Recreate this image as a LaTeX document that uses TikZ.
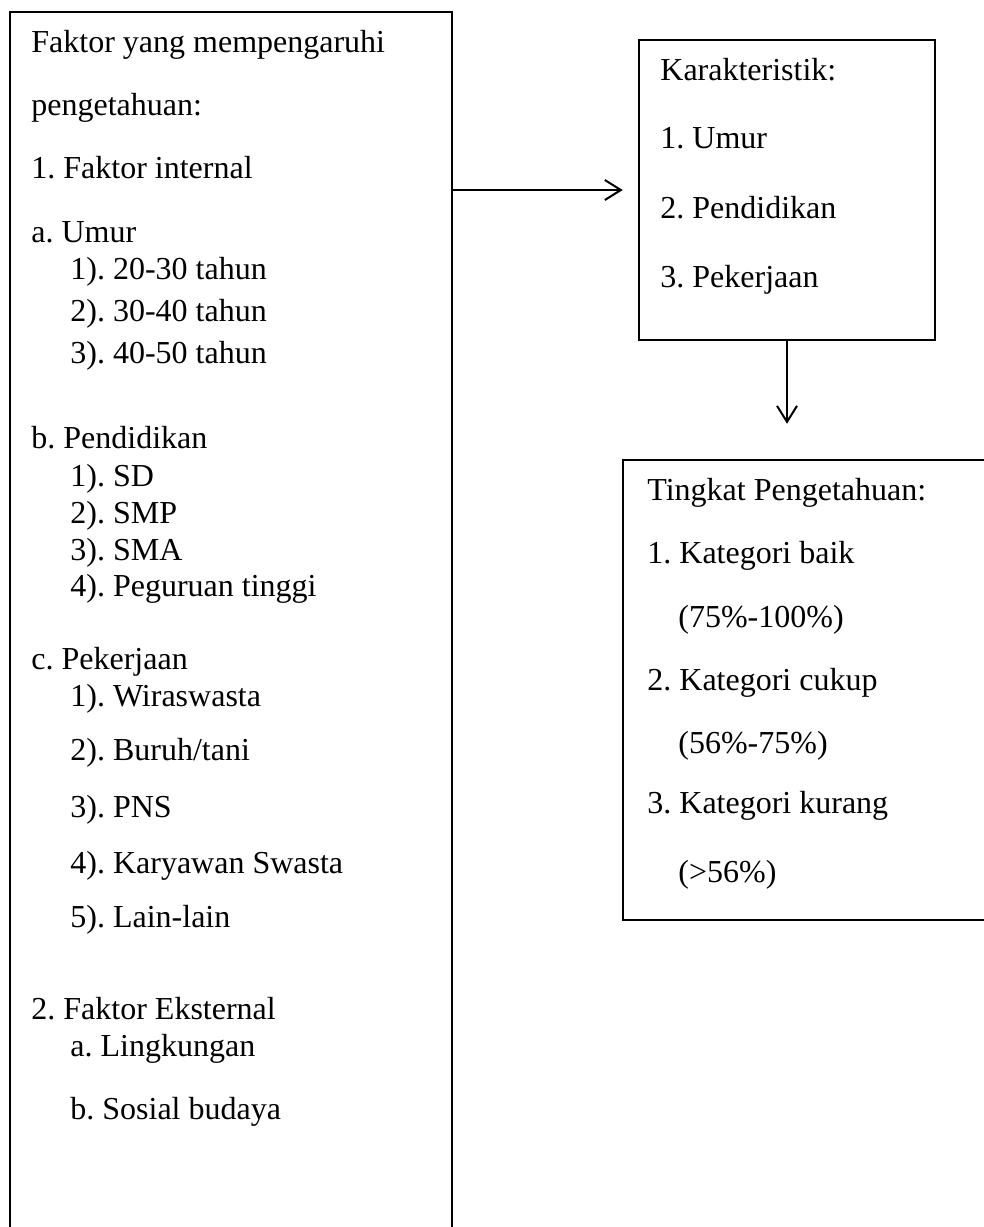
\documentclass[tikz,border=0pt]{standalone}
\usepackage{fontspec}
\setmainfont{Liberation Serif}
\usetikzlibrary{positioning,arrows.meta}

\tikzset{
  kotak/.style={draw, line width=1.25pt, inner sep=0pt},
  baris/.style={anchor=base west, inner sep=0pt, font=\fontsize{16pt}{19pt}\selectfont\frenchspacing},
  panah/.style={-{Straight Barb[length=8pt,width=10pt]}, line width=1pt}
}

\begin{document}
\begin{tikzpicture}[x=0.5pt,y=-0.5pt]
            \useasboundingbox (0,0) rectangle (984,1227);
            \clip (0,0) rectangle (984,1227);
            % kotak
            \node[kotak,minimum width=221pt,minimum height=620pt] (faktor) at (231,632) {};
            \node[kotak,minimum width=148pt,minimum height=150pt] (karakter) at (787,190) {};
            \node[kotak,minimum width=190pt,minimum height=230pt] (tingkat) at (813,690) {};
            % panah
            \draw[panah,shorten >=7.5pt] (faktor.east |- karakter.west) -- (karakter.west);
            \draw[panah,shorten >=17.5pt] (karakter.south) -- (karakter.south |- tingkat.north);
            % isi kotak kiri
            \foreach \y/\teks [count=\i] in {52/Faktor yang mempengaruhi, 115/pengetahuan:,
                178/1. Faktor internal, 242/a. Umur, 448/b. Pendidikan, 669/c. Pekerjaan,
                1019/2. Faktor Eksternal}
                \node[baris] (kiri\i) at (31,\y) {\teks};
            \foreach \y/\teks [count=\i] in {279/1). 20-30 tahun, 321/2). 30-40 tahun,
                363/3). 40-50 tahun, 486/1). SD, 523/2). SMP, 560/3). SMA,
                596/4). Peguruan tinggi, 706/1). Wiraswasta, 760/{2). Buruh/tani},
                817/3). PNS, 873/4). Karyawan Swasta, 927/5). Lain-lain,
                1056/a. Lingkungan, 1119/b. Sosial budaya}
                \node[baris] (sub\i) at (70,\y) {\teks};
            % isi kotak kanan
            \foreach \y/\teks [count=\i] in {80/Karakteristik:, 148/1. Umur,
                218/2. Pendidikan, 287/3. Pekerjaan}
                \node[baris] (kar\i) at (660,\y) {\teks};
            \foreach \y/\teks [count=\i] in {500/Tingkat Pengetahuan:, 563/1. Kategori baik,
                690/2. Kategori cukup, 813/3. Kategori kurang}
                \node[baris] (ting\i) at (647,\y) {\teks};
            \foreach \y/\teks [count=\i] in {627/(75\%-100\%), 753/(56\%-75\%), 882/(>56\%)}
                \node[baris] (pers\i) at (678,\y) {\teks};
        \end{tikzpicture}
\end{document}
